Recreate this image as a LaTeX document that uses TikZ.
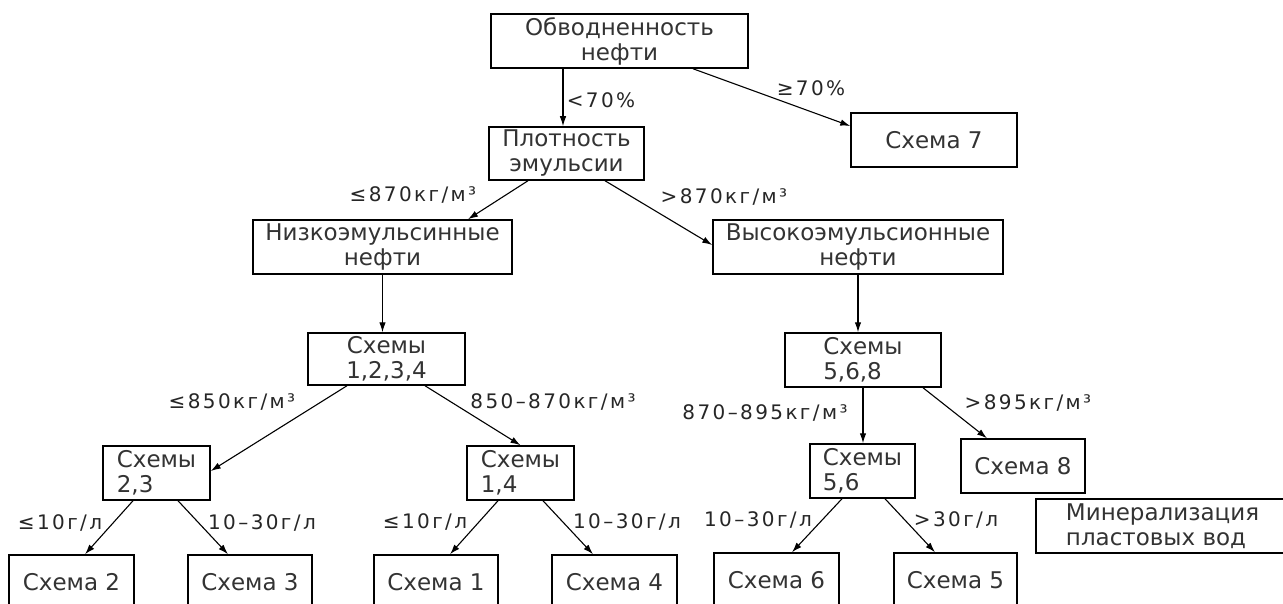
\documentclass[tikz,border=0pt]{standalone}
\usepackage{fontspec}
\setmainfont{DejaVu Sans}
\newfontfamily\lblfont{DejaVu Sans}[LetterSpace=12]
\usetikzlibrary{arrows.meta}
\tikzset{
  box/.style={draw=black, line width=1.5pt, inner sep=0pt, font=\fontsize{23}{25}\selectfont, text=black!80},
  sz/.style 2 args={minimum width=#1pt, minimum height=#2pt},
  arr/.style={line width=1.1pt, -{Latex[length=10pt,width=6.5pt]}},
  lbl/.style={font=\lblfont\fontsize{20}{22}\selectfont, inner sep=0pt, text=black!85},
}
\begin{document}
\begin{tikzpicture}[x=1pt,y=-1pt]
\useasboundingbox (0,0) rectangle (1283,604);
\fill[white] (0,0) rectangle (1283,604);
\clip (0,0) rectangle (1283,604);
% boxes
\node[box, sz={257}{54}, align=center] (b1) at (619.5,41) {Обводненность\\нефти};
\node[box, sz={155}{53}, align=center] (plot) at (566.5,153.5) {Плотность\\эмульсии};
\node[box, sz={166}{54}] (s7) at (934,140) {Схема 7};
\node[box, sz={259}{54}, align=center] (low) at (382.5,247) {Низкоэмульсинные\\нефти};
\node[box, sz={290}{54}, align=center] (high) at (858,247) {Высокоэмульсионные\\нефти};
\node[box, sz={157}{52}, align=center] (s1234) at (386.5,359) {Схемы\\1,2,3,4};
\node[box, sz={156}{54}, align=left] (s568) at (863,360) {Схемы\\5,6,8};
\node[box, sz={107}{54}, align=left] (s23) at (156.5,473) {Схемы\\2,3};
\node[box, sz={107}{54}, align=left] (s14) at (520.5,473) {Схемы\\1,4};
\node[box, sz={105}{54}, align=left] (s56) at (862.5,471) {Схемы\\5,6};
\node[box, sz={124}{54}] (s8) at (1023,466) {Схема 8};
\node[box, sz={253}{54}, align=left] (min) at (1162.5,526) {Минерализация\\пластовых вод};
\node[box, sz={125}{54}] (s2) at (71.5,582) {Схема 2};
\node[box, sz={124}{54}] (s3) at (250,582) {Схема 3};
\node[box, sz={124}{54}] (s1) at (436,582) {Схема 1};
\node[box, sz={125}{54}] (s4) at (614.5,582) {Схема 4};
\node[box, sz={125}{54}] (s6) at (776.5,580) {Схема 6};
\node[box, sz={123}{54}] (s5) at (955.5,580) {Схема 5};
% connectors
\draw[arr] ([xshift=-56.5pt]b1.south) -- ([xshift=-3.5pt]plot.north);
\draw[arr] ([xshift=73.5pt]b1.south) -- ([yshift=14pt]s7.west);
\draw[arr] ([xshift=-38.5pt]plot.south) -- ([xshift=85.5pt]low.north);
\draw[arr] ([xshift=38.5pt]plot.south) -- ([yshift=2pt]high.west);
\draw[arr] (low.south) -- (low.south |- s1234.north);
\draw[arr] (high.south) -- (high.south |- s568.north);
\draw[arr] ([xshift=-39.5pt]s1234.south) -- ([yshift=2pt]s23.east);
\draw[arr] ([xshift=38.5pt]s1234.south) -- (s14.north);
\draw[arr] (s568.south) -- (s568.south |- s56.north);
\draw[arr] ([xshift=60pt]s568.south) -- ([xshift=-36pt]s8.north);
\draw[arr] ([xshift=-23.5pt]s23.south) -- ([xshift=13.5pt]s2.north);
\draw[arr] ([xshift=21.5pt]s23.south) -- ([xshift=-22pt]s3.north);
\draw[arr] ([xshift=-22.5pt]s14.south) -- ([xshift=14pt]s1.north);
\draw[arr] ([xshift=22.5pt]s14.south) -- ([xshift=-21.5pt]s4.north);
\draw[arr] ([xshift=-20.5pt]s56.south) -- ([xshift=15.5pt]s6.north);
\draw[arr] ([xshift=22.5pt]s56.south) -- ([xshift=-20.5pt]s5.north);
% labels
\node[lbl] (l1) at (601,100) {<70\%};
\node[lbl] (l2) at (811,88) {≥70\%};
\node[lbl] (l3) at (413,195) {≤870кг/м³};
\node[lbl] (l4) at (724,197) {>870кг/м³};
\node[lbl] (l5) at (232,402) {≤850кг/м³};
\node[lbl] (l6) at (553,402) {850–870кг/м³};
\node[lbl] (l7) at (765,413) {870–895кг/м³};
\node[lbl] (l8) at (1028,403) {>895кг/м³};
\node[lbl] (l9) at (60,523) {≤10г/л};
\node[lbl] (l10) at (262,523) {10–30г/л};
\node[lbl] (l11) at (425,522) {≤10г/л};
\node[lbl] (l12) at (627,522) {10–30г/л};
\node[lbl] (l13) at (758,520) {10–30г/л};
\node[lbl] (l14) at (956,520) {>30г/л};
\end{tikzpicture}
\end{document}
